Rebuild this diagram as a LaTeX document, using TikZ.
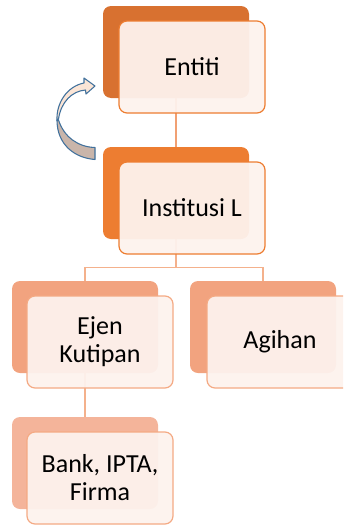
\documentclass[tikz,border=0pt]{standalone}
\usepackage{fontspec}
\setmainfont{Carlito}
\usetikzlibrary{backgrounds}
\definecolor{cA}{RGB}{216,113,48}
\definecolor{cB}{RGB}{237,125,49}
\definecolor{cC}{RGB}{242,163,127}
\definecolor{cD}{RGB}{244,180,154}
\definecolor{frontfill}{RGB}{253,242,237}
\definecolor{lineA}{RGB}{241,160,115}
\definecolor{lineB}{RGB}{244,177,140}
\definecolor{borderB}{RGB}{244,170,132}
\definecolor{arrowblue}{RGB}{65,113,156}
\definecolor{arrowlight}{RGB}{251,229,214}
\definecolor{arrowdark}{RGB}{201,181,170}
\begin{document}
\begin{tikzpicture}[x=0.75pt,y=-0.75pt,
  backbox/.style={rounded corners=6pt, minimum width=109.5pt, minimum height=69pt, inner sep=0pt, fill=#1},
  frontbox/.style={rounded corners=6pt, minimum width=109.5pt, minimum height=69pt, inner sep=0pt,
    draw=#1, line width=0.9pt, fill=frontfill, fill opacity=0.95, text opacity=1, align=center,
    font=\fontsize{19.5}{21}\selectfont},
  conn/.style={line width=0.9pt, draw=#1},
  arrowpart/.style={draw=arrowblue, line width=0.8pt, line join=round, fill=#1}]
\useasboundingbox (0,0) rectangle (343,525);
\clip (0,0) rectangle (343,525);
% back boxes
\node[backbox=cA] (entB) at (176,52) {};
\node[backbox=cB] (instB) at (176,193) {};
\node[backbox=cC] (ejenB) at (85,327) {};
\node[backbox=cC] (agiB) at (263,327) {};
\node[backbox=cD] (bankB) at (85,463) {};
% front boxes
\node[frontbox=cB] (entF) at (192,67) {Entiti};
\node[frontbox=cB] (instF) at (192,208) {Institusi L};
\node[frontbox=borderB] (ejenF) at (100,342) {Ejen\\Kutipan};
\node[frontbox=borderB] (agiF) at (280,342) {Agihan};
\node[frontbox=borderB] (bankF) at (100,478) {Bank, IPTA,\\Firma};
% connectors
\begin{scope}[on background layer]
\draw[conn=lineA] (entB.south) -- (instB.north);
\draw[conn=lineB] (instB.south) -- ++(0,28) -| (ejenB.north);
\draw[conn=lineB] (instB.south) -- ++(0,28) -| (agiB.north);
\draw[conn=lineB] (ejenB.south) -- (bankB.north);
\end{scope}
% curved arrow
\path[arrowpart=arrowdark] (57,120) .. controls (57,145) and (75,158) .. (95,159.5) -- (95,147.5) .. controls (78,147) and (64,137) .. (58.5,120) -- cycle;
\path[arrowpart=arrowlight] (57,121) .. controls (56,102) and (68,86) .. (84,83) -- (84,78) -- (95,86) -- (86,94) -- (85.5,90) .. controls (72,91) and (61,102) .. (58.5,119) -- cycle;
\end{tikzpicture}
\end{document}
